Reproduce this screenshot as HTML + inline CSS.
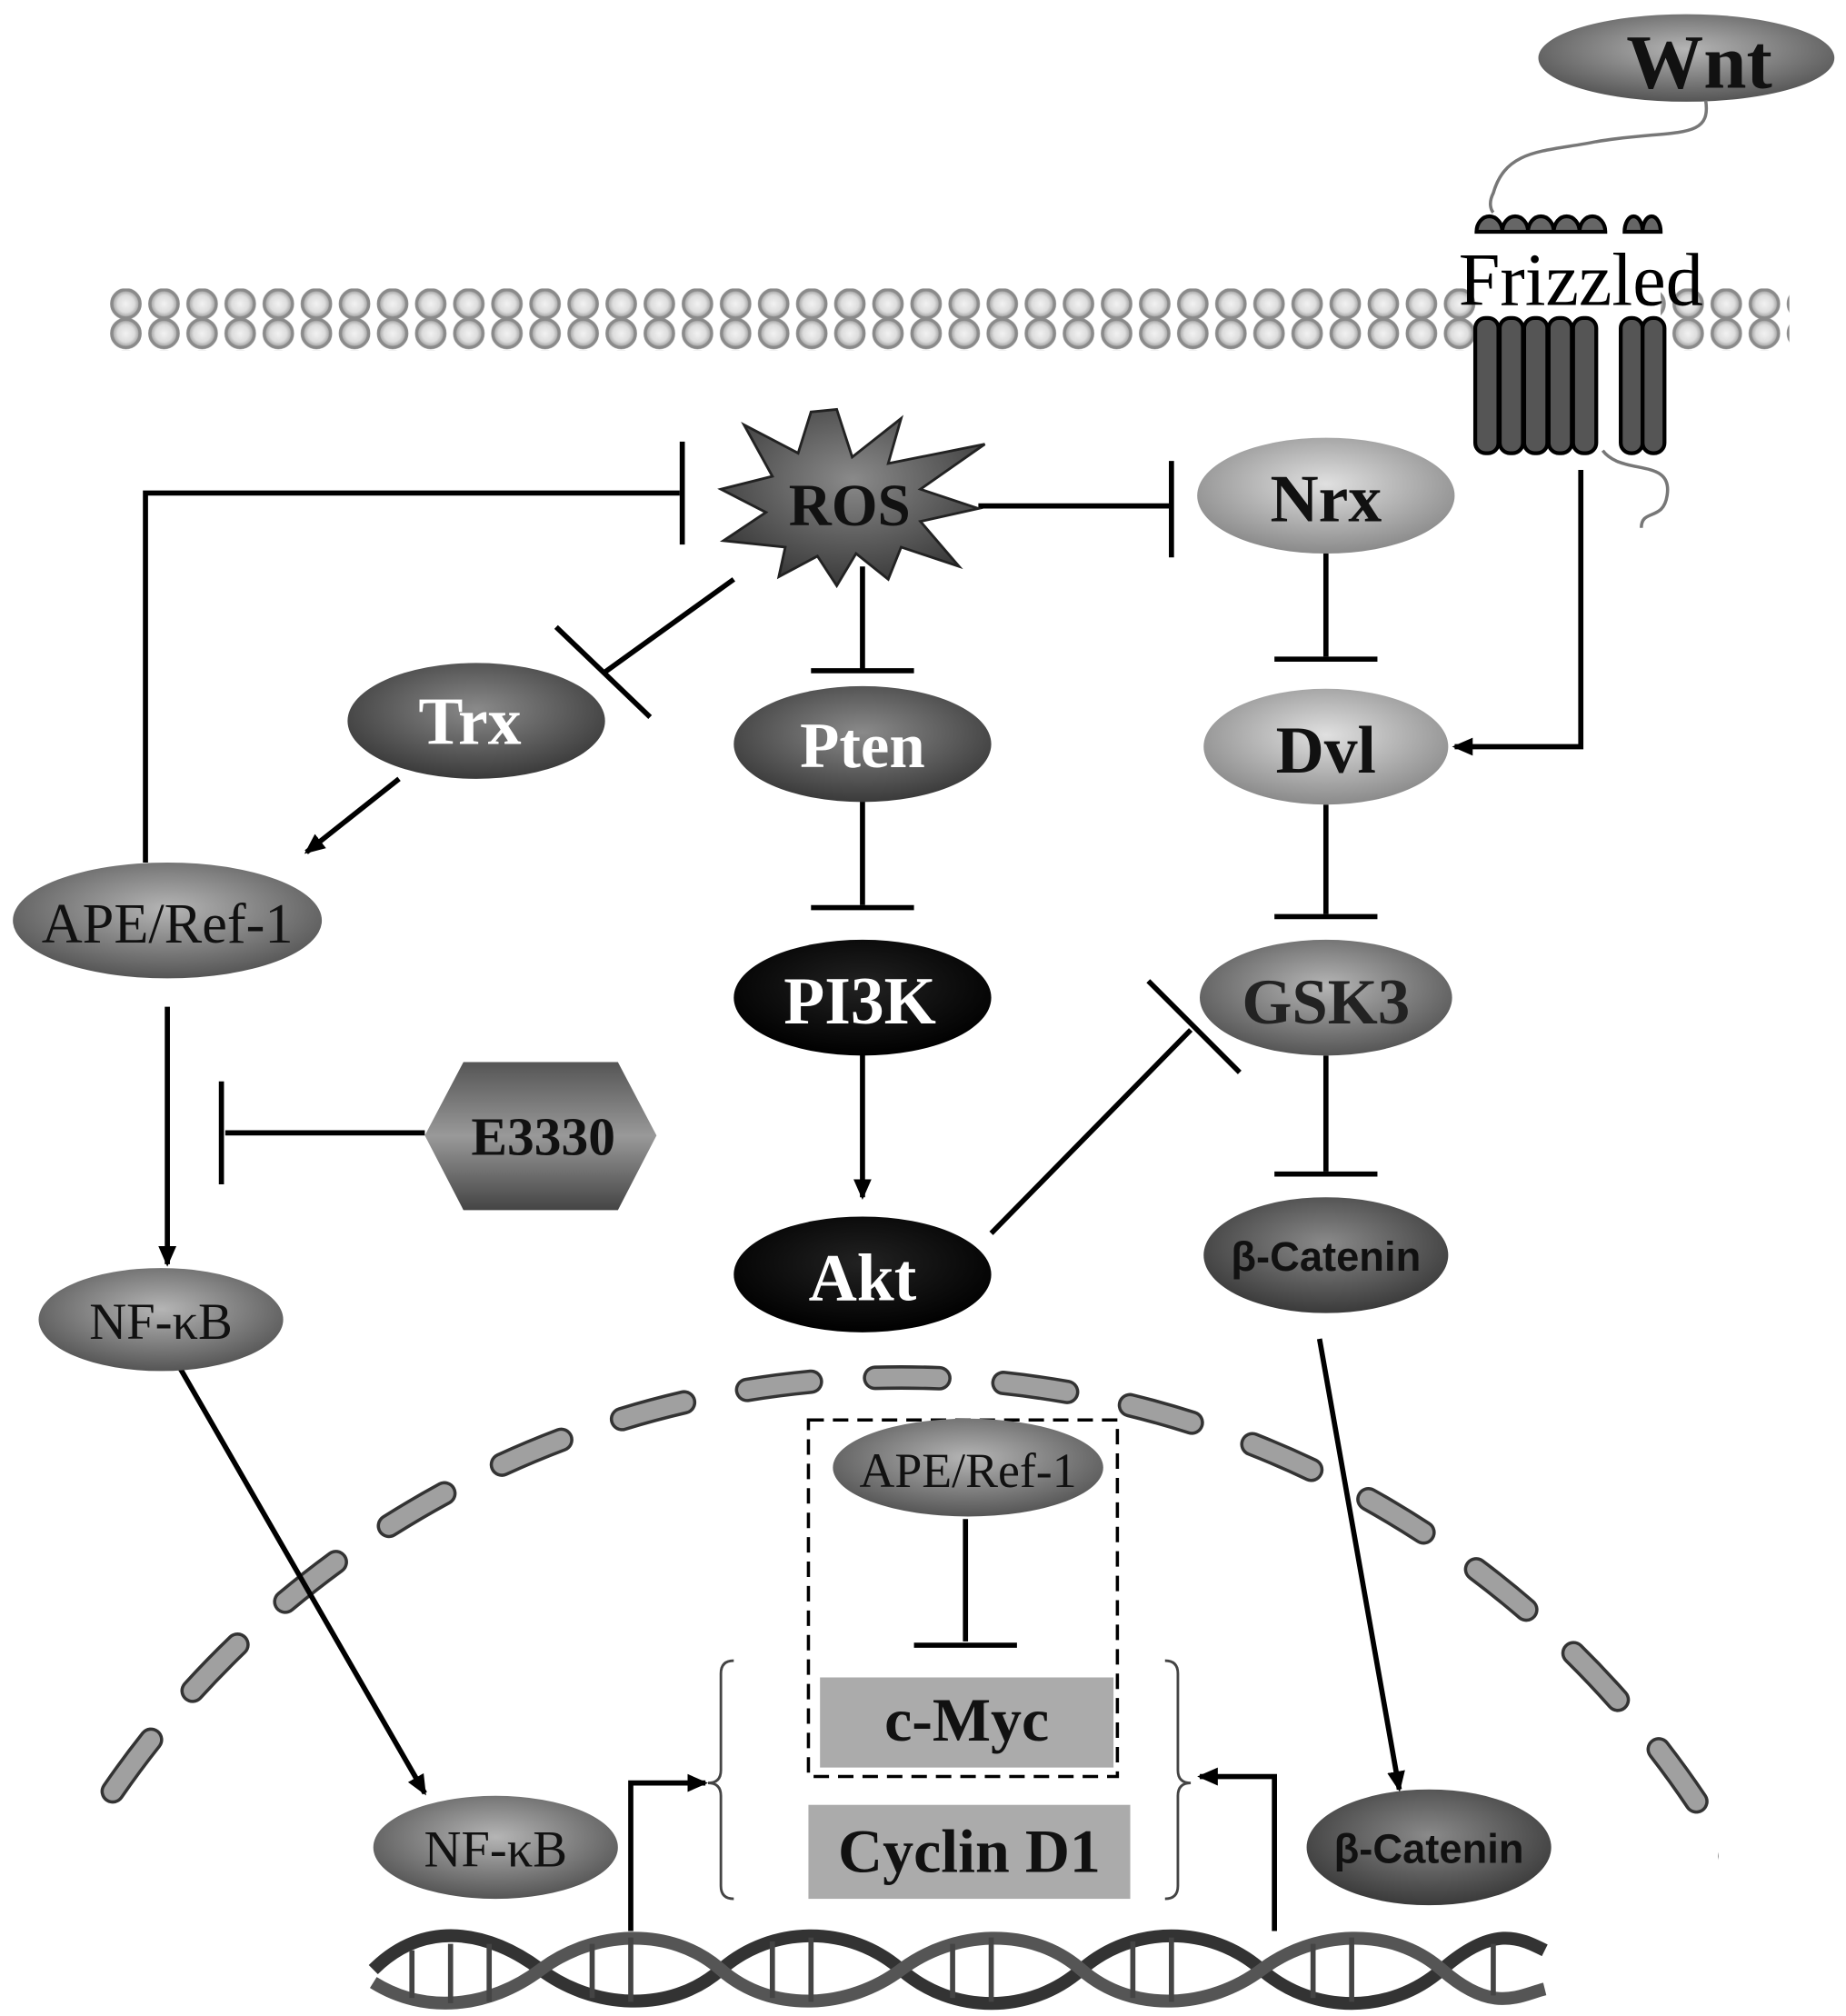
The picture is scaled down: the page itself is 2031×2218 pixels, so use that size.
<!DOCTYPE html>
<html><head><meta charset="utf-8"><style>html,body{margin:0;padding:0;background:#fff;overflow:hidden;width:2031px;height:2218px}svg{display:block}</style></head>
<body>
<svg width="2031" height="2218" viewBox="0 0 1434 1566" xmlns="http://www.w3.org/2000/svg" font-family="'Liberation Serif',serif" font-weight="bold">
<defs>
<radialGradient id="gd" cx="50%" cy="40%" r="60%"><stop offset="0" stop-color="#8a8a8a"/><stop offset="1" stop-color="#3a3a3a"/></radialGradient>
<radialGradient id="gl" cx="50%" cy="40%" r="60%"><stop offset="0" stop-color="#e0e0e0"/><stop offset="1" stop-color="#8a8a8a"/></radialGradient>
<radialGradient id="gm" cx="50%" cy="40%" r="60%"><stop offset="0" stop-color="#b5b5b5"/><stop offset="1" stop-color="#555"/></radialGradient>
<radialGradient id="gb" cx="50%" cy="40%" r="60%"><stop offset="0" stop-color="#222"/><stop offset="1" stop-color="#000"/></radialGradient>
<radialGradient id="gc" cx="50%" cy="50%" r="50%"><stop offset="0" stop-color="#f2f2f2"/><stop offset="0.6" stop-color="#ddd"/><stop offset="1" stop-color="#999"/></radialGradient>
<linearGradient id="gh" x1="0" y1="0" x2="0" y2="1"><stop offset="0" stop-color="#555"/><stop offset="0.5" stop-color="#999"/><stop offset="1" stop-color="#444"/></linearGradient>
<pattern id="lip" x="83" y="224" width="29.6" height="48" patternUnits="userSpaceOnUse">
<circle cx="14.8" cy="12" r="11" fill="url(#gc)" stroke="#8a8a8a" stroke-width="2.5"/>
<circle cx="14.8" cy="35" r="11" fill="url(#gc)" stroke="#8a8a8a" stroke-width="2.5"/>
</pattern>
<marker id="arb" markerWidth="16" markerHeight="16" refX="14" refY="8" orient="auto" markerUnits="userSpaceOnUse"><path d="M0,1 L16,8 L0,15 z" fill="#000"/></marker>
</defs>

<!-- membrane -->
<rect x="83" y="224" width="1066" height="48" fill="url(#lip)"/>
<rect x="1290" y="224" width="100" height="48" fill="url(#lip)"/>

<!-- Wnt -->
<ellipse cx="1310" cy="45" rx="115" ry="34" fill="url(#gm)"/>
<text x="1320" y="68" font-size="60" text-anchor="middle" fill="#111">Wnt</text>
<path d="M1325,78 C1330,110 1300,100 1240,110 C1200,118 1170,115 1160,150 C1155,160 1160,165 1160,165" fill="none" stroke="#777" stroke-width="2.5"/>
<path d="M1245,350 C1260,370 1300,355 1295,385 C1292,405 1275,395 1275,410" fill="none" stroke="#777" stroke-width="2.5"/>

<!-- receptor -->
<g stroke="#000" stroke-width="3" fill="#666">
<path d="M1147,180 a10,12 0 0 1 20,0z M1167,180 a10,12 0 0 1 20,0z M1187,180 a10,12 0 0 1 20,0z M1207,180 a10,12 0 0 1 20,0z M1227,180 a10,12 0 0 1 20,0z M1262,180 a7,12 0 0 1 14,0z M1276,180 a7,12 0 0 1 14,0z"/>
</g>
<g stroke="#000" stroke-width="3" fill="#555">
<rect x="1146" y="247" width="18" height="105" rx="8"/><rect x="1165" y="247" width="18" height="105" rx="8"/><rect x="1184" y="247" width="18" height="105" rx="8"/><rect x="1203" y="247" width="18" height="105" rx="8"/><rect x="1222" y="247" width="18" height="105" rx="8"/>
<rect x="1259" y="247" width="17" height="105" rx="8"/><rect x="1276" y="247" width="17" height="105" rx="8"/>
</g>
<text x="1228" y="237" font-size="58" font-weight="normal" text-anchor="middle" fill="#000">Frizzled</text>

<!-- connectors -->
<g stroke="#000" stroke-width="4" fill="none">
<path d="M113,670 V383 H528"/><path d="M530,343 V423"/>
<path d="M760,393 H908"/><path d="M910,358 V433"/>
<path d="M570,450 L470,522"/><path d="M432,487 L505,557"/>
<path d="M670,440 V520"/><path d="M630,521 H710"/>
<path d="M670,620 V703"/><path d="M630,705 H710"/>
<path d="M670,815 V930" marker-end="url(#arb)"/>
<path d="M770,958 L925,800"/><path d="M892,762 L963,833"/>
<path d="M1030,430 V510"/><path d="M990,512 H1070"/>
<path d="M1030,625 V710"/><path d="M990,712 H1070"/>
<path d="M1030,820 V910"/><path d="M990,912 H1070"/>
<path d="M1228,365 V580 H1130" marker-end="url(#arb)"/>
<path d="M310,605 L238,662" marker-end="url(#arb)"/>
<path d="M130,782 V982" marker-end="url(#arb)"/>
<path d="M330,880 H175"/><path d="M172,840 V920"/>
<path d="M1025,1040 L1087,1390" marker-end="url(#arb)"/>
<path d="M750,1180 V1275"/><path d="M710,1278 H790"/>
<path d="M490,1500 V1385 H548" marker-end="url(#arb)"/>
<path d="M990,1500 V1380 H932" marker-end="url(#arb)"/>
</g>

<!-- nuclear membrane -->
<circle cx="700" cy="1814" r="744" fill="none" stroke="#333" stroke-width="19" stroke-linecap="round" stroke-dasharray="50 50" stroke-dashoffset="10" pathLength="4680"/>
<circle cx="700" cy="1814" r="744" fill="none" stroke="#a0a0a0" stroke-width="14" stroke-linecap="round" stroke-dasharray="50 50" stroke-dashoffset="10" pathLength="4680"/>
<rect x="0" y="1410" width="75" height="160" fill="#fff"/><rect x="1335" y="1410" width="99" height="160" fill="#fff"/>
<path d="M140,1063 L330,1393" stroke="#000" stroke-width="4" fill="none" marker-end="url(#arb)"/>

<!-- ROS star -->
<polygon points="650,318 662,355 700,325 690,360 765,345 715,380 760,395 715,405 745,440 700,425 690,450 665,430 650,455 635,432 605,448 610,425 562,420 595,398 560,380 600,370 578,330 620,352 630,320" fill="url(#gd)" stroke="#222" stroke-width="2"/>
<text x="660" y="408" font-size="46" text-anchor="middle" fill="#111">ROS</text>

<!-- nodes -->
<ellipse cx="1030" cy="385" rx="100" ry="45" fill="url(#gl)"/><text x="1030" y="405" font-size="52" text-anchor="middle" fill="#111">Nrx</text>
<ellipse cx="1030" cy="580" rx="95" ry="45" fill="url(#gl)"/><text x="1030" y="600" font-size="52" text-anchor="middle" fill="#111">Dvl</text>
<ellipse cx="1030" cy="775" rx="98" ry="45" fill="url(#gm)"/><text x="1030" y="795" font-size="50" text-anchor="middle" fill="#222">GSK3</text>
<ellipse cx="1030" cy="975" rx="95" ry="45" fill="url(#gd)"/><text x="1030" y="987" font-size="32" font-family="'Liberation Sans',sans-serif" text-anchor="middle" fill="#111">β-Catenin</text>
<ellipse cx="370" cy="560" rx="100" ry="45" fill="url(#gd)"/><text x="365" y="578" font-size="52" text-anchor="middle" fill="#fff">Trx</text>
<ellipse cx="670" cy="578" rx="100" ry="45" fill="url(#gd)"/><text x="670" y="596" font-size="50" text-anchor="middle" fill="#fff">Pten</text>
<ellipse cx="670" cy="775" rx="100" ry="45" fill="url(#gb)"/><text x="668" y="795" font-size="52" text-anchor="middle" fill="#fff">PI3K</text>
<ellipse cx="670" cy="990" rx="100" ry="45" fill="url(#gb)"/><text x="670" y="1010" font-size="52" text-anchor="middle" fill="#fff">Akt</text>
<ellipse cx="130" cy="715" rx="120" ry="45" fill="url(#gm)"/><text x="130" y="732" font-size="44" font-weight="normal" text-anchor="middle" fill="#111">APE/Ref-1</text>
<polygon points="360,825 480,825 510,882 480,940 360,940 330,882" fill="url(#gh)"/><text x="422" y="897" font-size="42" text-anchor="middle" fill="#111">E3330</text>
<ellipse cx="125" cy="1025" rx="95" ry="40" fill="url(#gm)"/><text x="125" y="1040" font-size="40" font-weight="normal" text-anchor="middle" fill="#111">NF-κB</text>
<ellipse cx="385" cy="1435" rx="95" ry="40" fill="url(#gm)"/><text x="385" y="1450" font-size="40" font-weight="normal" text-anchor="middle" fill="#111">NF-κB</text>
<ellipse cx="1110" cy="1435" rx="95" ry="45" fill="url(#gd)"/><text x="1110" y="1447" font-size="32" font-family="'Liberation Sans',sans-serif" text-anchor="middle" fill="#111">β-Catenin</text>

<!-- nucleus box -->
<rect x="628" y="1103" width="240" height="277" fill="none" stroke="#000" stroke-width="2.5" stroke-dasharray="12 7"/>
<ellipse cx="752" cy="1140" rx="105" ry="38" fill="url(#gm)"/><text x="752" y="1155" font-size="38" font-weight="normal" text-anchor="middle" fill="#111">APE/Ref-1</text>
<rect x="637" y="1303" width="228" height="70" fill="#ababab"/><text x="751" y="1352" font-size="48" text-anchor="middle" fill="#111">c-Myc</text>
<rect x="628" y="1402" width="250" height="73" fill="#ababab"/><text x="753" y="1454" font-size="48" text-anchor="middle" fill="#111">Cyclin D1</text>
<path d="M570,1290 Q560,1290 560,1300 V1375 Q560,1385 550,1385 Q560,1385 560,1395 V1465 Q560,1475 570,1475" fill="none" stroke="#444" stroke-width="2"/>
<path d="M905,1290 Q915,1290 915,1300 V1375 Q915,1385 925,1385 Q915,1385 915,1395 V1465 Q915,1475 905,1475" fill="none" stroke="#444" stroke-width="2"/>

<!-- DNA -->
<path d="M290,1530 C330,1490 380,1500 420,1530 S520,1565 560,1530 S660,1495 700,1530 S800,1565 840,1530 S940,1495 980,1530 S1080,1565 1120,1530 S1180,1505 1200,1515" fill="none" stroke="#333" stroke-width="10"/>
<path d="M290,1540 C330,1565 380,1560 420,1530 S520,1495 560,1530 S660,1560 700,1530 S800,1495 840,1530 S940,1560 980,1530 S1080,1495 1120,1530 S1180,1550 1200,1545" fill="none" stroke="#555" stroke-width="10"/>
<g stroke="#444" stroke-width="4">
<path d="M320,1515 V1552 M350,1510 V1556 M380,1510 V1555 M460,1510 V1552 M490,1505 V1555 M600,1508 V1552 M630,1505 V1555 M740,1510 V1552 M770,1505 V1555 M880,1508 V1552 M910,1505 V1555 M1020,1510 V1552 M1050,1505 V1555 M1160,1510 V1550"/>
</g>
</svg>
</body></html>
